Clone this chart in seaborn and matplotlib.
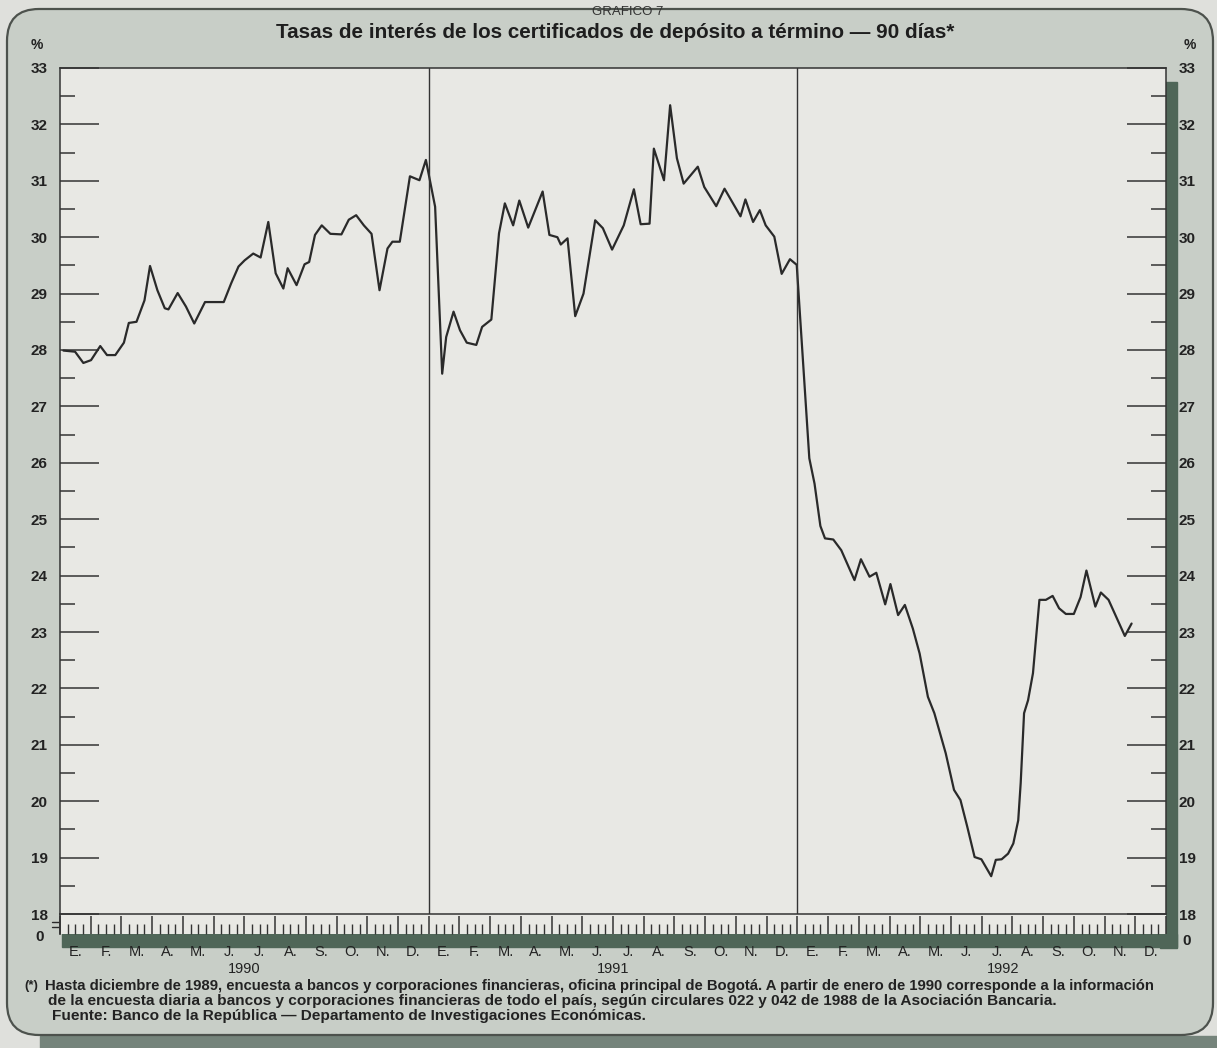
import numpy as np
import pandas as pd
import matplotlib
matplotlib.use("Agg")
import matplotlib.pyplot as plt
import seaborn as sns
from matplotlib.patches import FancyBboxPatch, Rectangle
from matplotlib.transforms import blended_transform_factory

# ---------------- data (months since Jan 1990, rate in %) ----------------
t_months = [
    0.11, 0.49, 0.76, 1.01, 1.31, 1.53, 1.80, 2.08, 2.24, 2.49, 2.75, 2.93,
    3.17, 3.41, 3.53, 3.83, 4.10, 4.37, 4.72, 4.97, 5.33, 5.57, 5.81, 6.01,
    6.29, 6.53, 6.78, 7.02, 7.27, 7.41, 7.70, 7.96, 8.11, 8.30, 8.52, 8.80,
    9.16, 9.40, 9.64, 9.89, 10.14, 10.40, 10.66, 10.82, 11.06, 11.39, 11.70, 11.91,
    12.21, 12.44, 12.57, 12.81, 13.02, 13.24, 13.55, 13.74, 14.04, 14.29, 14.48, 14.75,
    14.95, 15.24, 15.71, 15.93, 16.19, 16.30, 16.52, 16.77, 17.04, 17.42, 17.67, 17.97,
    18.35, 18.68, 18.90, 19.19, 19.33, 19.66, 19.86, 20.08, 20.30, 20.76, 20.97, 21.36,
    21.63, 22.15, 22.31, 22.56, 22.78, 22.97, 23.25, 23.49, 23.76, 23.98,
    24.39, 24.56, 24.75, 24.90, 25.17, 25.43, 25.86, 26.07, 26.35, 26.57, 26.86, 27.03,
    27.28, 27.50, 27.76, 27.98, 28.25, 28.46, 28.83, 29.10, 29.31, 29.53, 29.77, 29.99,
    30.31, 30.46, 30.65, 30.86, 31.03, 31.19, 31.27, 31.38, 31.51, 31.67, 31.88, 32.09,
    32.31, 32.52, 32.74, 33.00, 33.22, 33.41, 33.70, 33.88, 34.13, 34.66, 34.88,
]
rate = [
    27.99, 27.97, 27.77, 27.82, 28.07, 27.91, 27.91, 28.13, 28.48, 28.50, 28.88, 29.49,
    29.06, 28.74, 28.72, 29.01, 28.77, 28.47, 28.85, 28.85, 28.85, 29.18, 29.48, 29.59,
    29.71, 29.64, 30.27, 29.36, 29.09, 29.45, 29.15, 29.52, 29.56, 30.04, 30.21, 30.06,
    30.05, 30.31, 30.39, 30.21, 30.06, 29.06, 29.80, 29.92, 29.92, 31.08, 31.01, 31.37,
    30.54, 27.58, 28.23, 28.68, 28.35, 28.13, 28.09, 28.41, 28.54, 30.07, 30.60, 30.21,
    30.65, 30.17, 30.81, 30.04, 30.00, 29.87, 29.98, 28.60, 29.00, 30.30, 30.16, 29.78,
    30.21, 30.85, 30.23, 30.24, 31.57, 31.01, 32.34, 31.40, 30.95, 31.25, 30.89, 30.55,
    30.86, 30.37, 30.67, 30.27, 30.48, 30.21, 30.01, 29.35, 29.61, 29.51,
    26.08, 25.63, 24.88, 24.66, 24.64, 24.45, 23.92, 24.29, 23.98, 24.05, 23.49, 23.85,
    23.30, 23.48, 23.06, 22.62, 21.85, 21.56, 20.85, 20.20, 20.02, 19.55, 19.01, 18.97,
    18.67, 18.96, 18.97, 19.07, 19.25, 19.66, 20.32, 21.56, 21.79, 22.27, 23.57, 23.57,
    23.64, 23.42, 23.32, 23.32, 23.62, 24.09, 23.45, 23.70, 23.57, 22.93, 23.15,
]
years = ["1990", "1991", "1992"]
year_label_pos = [6.0, 18.0, 30.7]
year_bounds = [12, 24]
month_labels = ["E.", "F.", "M.", "A.", "M.", "J.", "J.", "A.", "S.", "O.", "N.", "D."]
y_ticks = list(range(18, 34))
y_tick_labels = [str(v) for v in y_ticks]

grafico = "GRAFICO 7"
title = "Tasas de interés de los certificados de depósito a término — 90 días*"
note_mark = "(*)"
note1 = ("Hasta diciembre de 1989, encuesta a bancos y corporaciones financieras, oficina principal de Bogotá. "
         "A partir de enero de 1990 corresponde a la información")
note2 = ("de la encuesta diaria a bancos y corporaciones financieras de todo el país, según circulares "
         "022 y 042 de 1988 de la Asociación Bancaria.")
note3 = "Fuente: Banco de la República — Departamento de Investigaciones Económicas."

# ---------------- style ----------------
sns.set_theme(style="white")
plt.rcParams['font.family'] = ['Liberation Sans', 'DejaVu Sans']

W, H = 1217, 1048
PANEL = '#c8cec7'
PLOT_BG = '#e8e8e4'
DARK = '#4f6658'
INK = '#2a2a2a'

fig = plt.figure(figsize=(W / 100, H / 100), dpi=100, facecolor='#dfe0dc')

bg = fig.add_axes([0, 0, 1, 1], zorder=0)
bg.set_xlim(0, W)
bg.set_ylim(H, 0)
bg.axis('off')

bg.add_patch(Rectangle((40, 1036), W - 40, 12, color='#75847b', zorder=0))
bg.add_patch(FancyBboxPatch((7, 9), 1206, 1026, boxstyle="round,pad=0,rounding_size=32",
                            fc=PANEL, ec='#4d524d', lw=1.6, zorder=1))
bg.add_patch(Rectangle((1160, 82), 17, 866, color=DARK, zorder=2))
bg.add_patch(Rectangle((62, 934), 1115, 13, color=DARK, zorder=2))
# axis break marks
bg.plot([52, 64], [922, 922], color=INK, lw=1.0, zorder=3)
bg.plot([52, 64], [927, 927], color=INK, lw=1.0, zorder=3)


def frame(x0, y0, x1, y1):
    return [x0 / W, 1 - y1 / H, (x1 - x0) / W, (y1 - y0) / H]


# ---------------- main axes ----------------
ax = fig.add_axes(frame(60, 68, 1166, 914), zorder=3)
ax.set_facecolor(PLOT_BG)
df = pd.DataFrame({'t': t_months, 'rate': rate})
sns.lineplot(data=df, x='t', y='rate', ax=ax, color=INK, lw=1.6,
             estimator=None, sort=False)
for b in year_bounds:
    ax.axvline(b, color='#333333', lw=1.0)
ax.set_xlim(0, 36)
ax.set_ylim(18, 33)
ax.set_xlabel('')
ax.set_ylabel('')
ax.set_xticks([])
ax.set_yticks(y_ticks, y_tick_labels, fontweight='bold')
ax.set_yticks(np.arange(18.5, 33, 1.0), minor=True)
ax.tick_params(axis='y', which='major', direction='in', length=28, width=1.1,
               color='#333333', left=True, right=True, labelleft=True,
               labelright=True, labelsize=11, pad=9, labelcolor='#222222')
ax.tick_params(axis='y', which='minor', direction='in', length=11, width=1.1,
               color='#333333', left=True, right=True)
for s in ax.spines.values():
    s.set_color('#333333')
    s.set_linewidth(1.1)

# ---------------- month tick strip ----------------
axs = fig.add_axes(frame(60, 914, 1166, 934), zorder=2)
axs.set_facecolor(PLOT_BG)
axs.set_xlim(0, 36)
axs.set_ylim(0, 1)
axs.set_yticks([])
for s in ['top', 'right', 'bottom']:
    axs.spines[s].set_visible(False)
axs.spines['left'].set_color('#333333')
axs.set_xticks(np.arange(0, 37, 1))
axs.set_xticks(np.arange(0, 36, 0.25), minor=True)
axs.tick_params(axis='x', which='major', direction='in', length=13, width=1.1,
                color='#333333', bottom=True, labelbottom=False)
axs.tick_params(axis='x', which='minor', direction='in', length=7, width=1.0,
                color='#333333', bottom=True)

trans = blended_transform_factory(ax.transData, bg.transData)
for yi, yr in enumerate(years):
    for mi, ml in enumerate(month_labels):
        bg.text(12 * yi + mi + 0.5, 952, ml, transform=trans, ha='center', va='center',
                fontsize=10.5, color='#222222')
    bg.text(year_label_pos[yi], 969, yr, transform=trans, ha='center', va='center',
            fontsize=10.5, color='#222222')

# ---------------- texts ----------------
renderer = fig.canvas.get_renderer()


def fit_text(x, y, s, width, fs, **kw):
    t = bg.text(x, y, s, fontsize=fs, **kw)
    w = t.get_window_extent(renderer).width
    t.set_fontsize(fs * width / w)
    return t


bg.text(628, 12, grafico, ha='center', va='center', fontsize=9.5, color='#333333')
fit_text(615, 32, title, 680, 12.5, ha='center', va='center', fontweight='bold', color='#1e1e1e')

for xx in (37, 1190):
    bg.text(xx, 45, '%', ha='center', va='center', fontsize=10, fontweight='bold', color='#222222')
bg.text(40, 937, '0', ha='center', va='center', fontsize=11, fontweight='bold', color='#222222')
bg.text(1187, 941, '0', ha='center', va='center', fontsize=11, fontweight='bold', color='#222222')

bg.text(24, 986, note_mark, ha='left', va='center', fontsize=9.5, fontweight='bold', color='#222222')
fit_text(45, 986, note1, 1120, 9.5, ha='left', va='center', fontweight='bold', color='#222222')
fit_text(48, 1001, note2, 1005, 9.5, ha='left', va='center', fontweight='bold', color='#222222')
fit_text(52, 1016, note3, 595, 9.5, ha='left', va='center', fontweight='bold', color='#222222')

fig.savefig('out.png', dpi=100, facecolor=fig.get_facecolor())
